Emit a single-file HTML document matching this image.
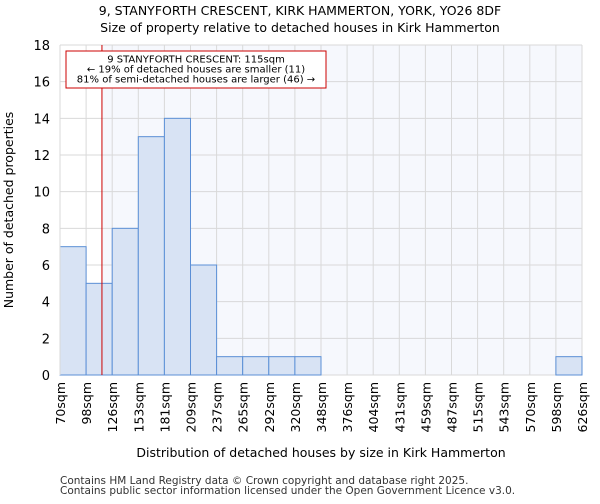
<!DOCTYPE html>
<html><head><meta charset="utf-8"><style>
body{margin:0;background:#fff;font-family:"DejaVu Sans","Liberation Sans",sans-serif}
</style></head><body>
<svg id="chart" width="600" height="500" xmlns="http://www.w3.org/2000/svg" font-family="DejaVu Sans, Liberation Sans, sans-serif">
<text x="300" y="15" text-anchor="middle" font-size="12.5">9, STANYFORTH CRESCENT, KIRK HAMMERTON, YORK, YO26 8DF</text>
<text x="300" y="32" text-anchor="middle" font-size="12.5">Size of property relative to detached houses in Kirk Hammerton</text>
<g id="plot"></g>
<text x="321" y="457" text-anchor="middle" font-size="12.5">Distribution of detached houses by size in Kirk Hammerton</text>
<text transform="translate(13,210) rotate(-90)" text-anchor="middle" font-size="12.5">Number of detached properties</text>
<text x="60" y="484" font-size="10.5" fill="#333">Contains HM Land Registry data © Crown copyright and database right 2025.</text>
<text x="60" y="494" font-size="10.5" fill="#333">Contains public sector information licensed under the Open Government Licence v3.0.</text>
</svg>
<script>
const edgeLabels=["70sqm","98sqm","126sqm","153sqm","181sqm","209sqm","237sqm","265sqm","292sqm","320sqm","348sqm","376sqm","404sqm","431sqm","459sqm","487sqm","515sqm","543sqm","570sqm","598sqm","626sqm"];
const edgeValues=[70,98,126,153,181,209,237,265,292,320,348,376,404,431,459,487,515,543,570,598,626];
const counts=[7,5,8,13,14,6,1,1,1,1,0,0,0,0,0,0,0,0,0,1];
const yTicks=[0,2,4,6,8,10,12,14,16,18];
const propertySize=115;
const X0=60,X1=582,Y0=375,Y1=45,YMAX=18;
const NS="http://www.w3.org/2000/svg";
const g=document.getElementById('plot');
const bw=(X1-X0)/counts.length;
const xi=i=>X0+i*bw;
const y=v=>Y0-(v/YMAX)*(Y0-Y1);
function xv(v){for(let i=0;i<edgeValues.length-1;i++){if(v<=edgeValues[i+1]){return xi(i+(v-edgeValues[i])/(edgeValues[i+1]-edgeValues[i]));}}return X1;}
function mk(t,a){const e=document.createElementNS(NS,t);for(const k in a)e.setAttribute(k,a[k]);g.appendChild(e);return e;}
const px=xv(propertySize);
let bg=mk('rect',{x:px,y:Y1,width:X1-px,height:Y0-Y1,fill:'#f6f8fd'});


edgeValues.forEach((v,i)=>{let l=mk('line',{x1:xi(i),x2:xi(i),y1:Y1,y2:Y0,stroke:'#d9d9d9','stroke-width':1});

});
yTicks.forEach(t=>{let l=mk('line',{x1:X0,x2:X1,y1:y(t),y2:y(t),stroke:'#d9d9d9','stroke-width':1});


let tx=mk('text',{x:X0-10,y:y(t)+5,'text-anchor':'end','font-size':13});tx.textContent=t;

});
counts.forEach((c,i)=>{if(c<=0)return;let r=mk('rect',{x:xi(i),y:y(c),width:bw,height:Y0-y(c),fill:'#d8e3f4',stroke:'#5b8fd6','stroke-width':1});

});
edgeLabels.forEach((s,i)=>{let tx=mk('text',{transform:`translate(${xi(i)+5},382) rotate(-90)`,'text-anchor':'end','font-size':12.5});tx.textContent=s;

});
let ax=mk('line',{x1:X0,x2:X0,y1:Y1,y2:Y0,stroke:'#d9d9d9'});


let rl=mk('line',{x1:px,x2:px,y1:Y1,y2:Y0,stroke:'#cc0000','stroke-width':1});


let box=mk('rect',{x:66,y:51,width:260,height:37,fill:'#fff',stroke:'#cc0000','stroke-width':1});


["9 STANYFORTH CRESCENT: 115sqm","← 19% of detached houses are smaller (11)","81% of semi-detached houses are larger (46) →"].forEach((s,i)=>{let tx=mk('text',{x:196,y:62.5+i*10,'text-anchor':'middle','font-size':10});tx.textContent=s;

});
</script>
</body></html>
